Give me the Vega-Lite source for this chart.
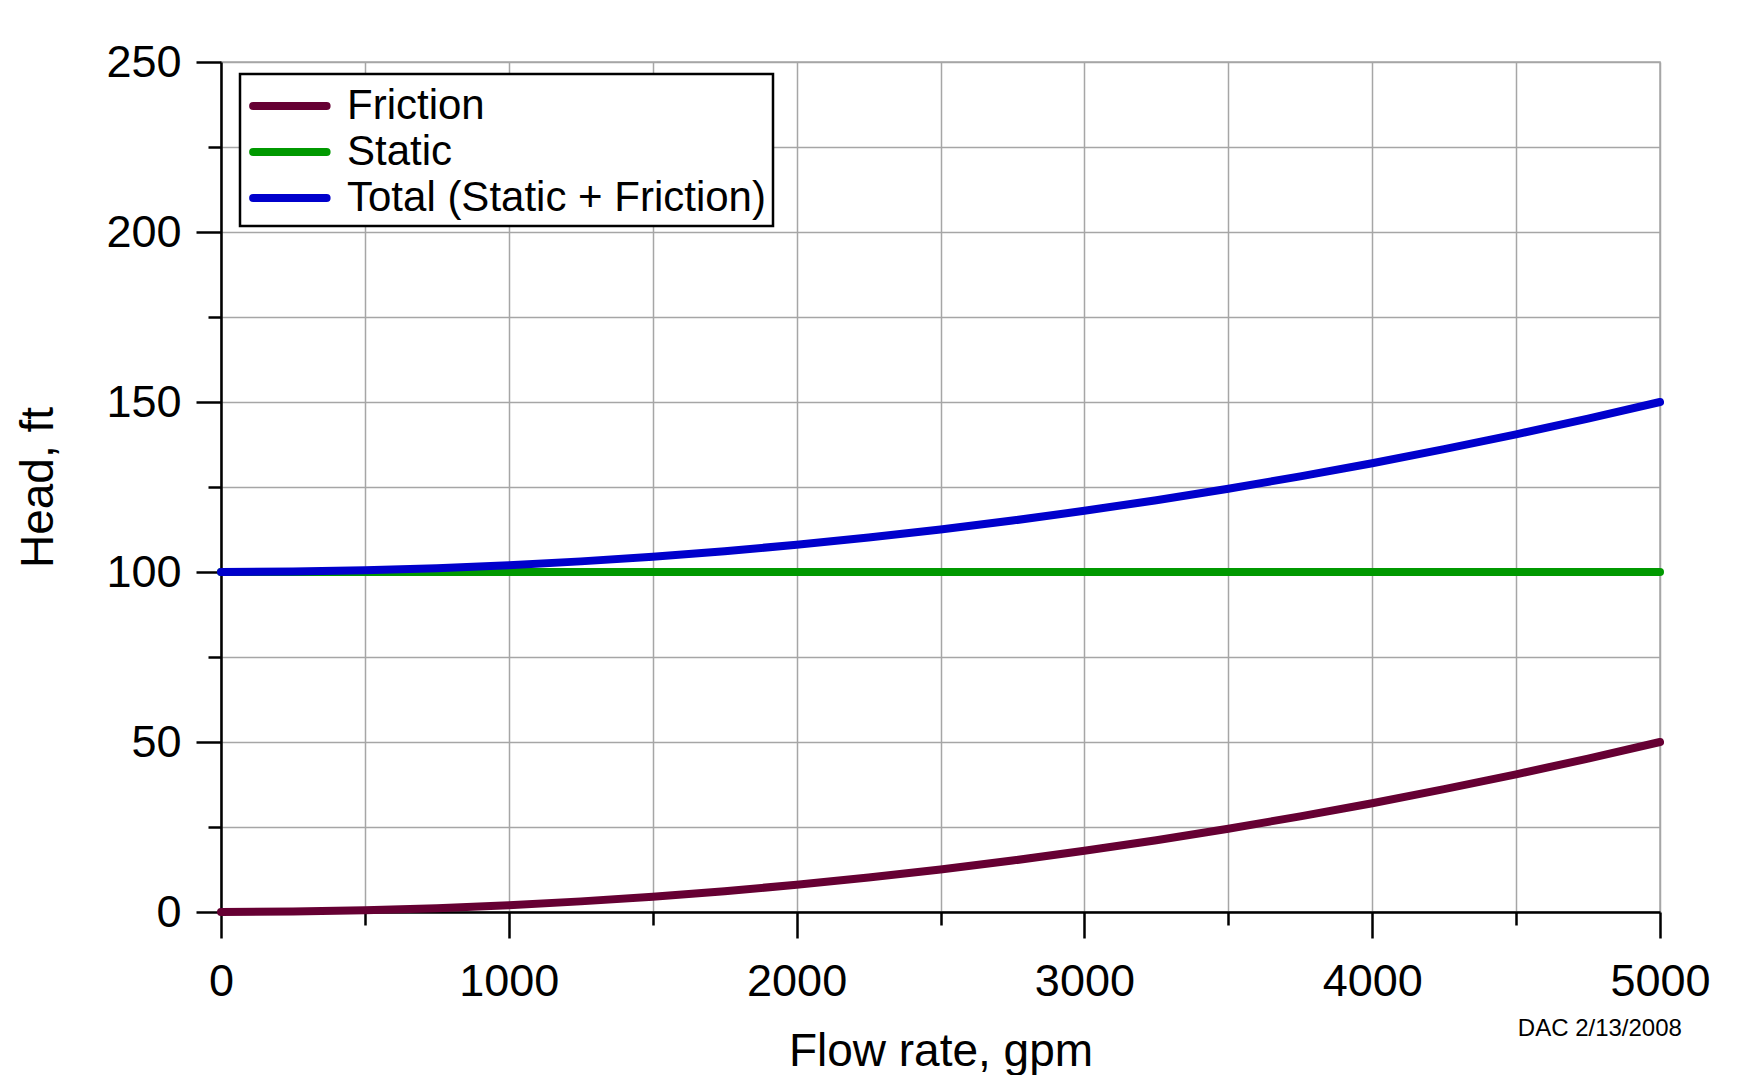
{
  "$schema": "https://vega.github.io/schema/vega-lite/v6.json",
  "width": 1439,
  "height": 850,
  "autosize": {"type": "none"},
  "padding": {"left": 221, "top": 62, "right": 100, "bottom": 163},
  "background": "white",
  "config": {
    "font": "Liberation Sans",
    "view": {"stroke": "#a6a6a6", "strokeWidth": 1.5},
    "axis": {
      "grid": true,
      "gridColor": "#a6a6a6",
      "gridWidth": 1.5,
      "domainColor": "black",
      "domainWidth": 2.5,
      "tickColor": "black",
      "tickWidth": 2.5,
      "labelFontSize": 45,
      "labelColor": "black",
      "labelFlush": false,
      "labelOverlap": false,
      "titleFontSize": 46,
      "titleFontWeight": "normal",
      "titleColor": "black"
    }
  },
  "datasets": {
    "curves": [
      {"Q": 0, "head": 0, "series": "Friction"},
      {"Q": 250, "head": 0.125, "series": "Friction"},
      {"Q": 500, "head": 0.5, "series": "Friction"},
      {"Q": 750, "head": 1.125, "series": "Friction"},
      {"Q": 1000, "head": 2, "series": "Friction"},
      {"Q": 1250, "head": 3.125, "series": "Friction"},
      {"Q": 1500, "head": 4.5, "series": "Friction"},
      {"Q": 1750, "head": 6.125, "series": "Friction"},
      {"Q": 2000, "head": 8, "series": "Friction"},
      {"Q": 2250, "head": 10.125, "series": "Friction"},
      {"Q": 2500, "head": 12.5, "series": "Friction"},
      {"Q": 2750, "head": 15.125, "series": "Friction"},
      {"Q": 3000, "head": 18, "series": "Friction"},
      {"Q": 3250, "head": 21.125, "series": "Friction"},
      {"Q": 3500, "head": 24.5, "series": "Friction"},
      {"Q": 3750, "head": 28.125, "series": "Friction"},
      {"Q": 4000, "head": 32, "series": "Friction"},
      {"Q": 4250, "head": 36.125, "series": "Friction"},
      {"Q": 4500, "head": 40.5, "series": "Friction"},
      {"Q": 4750, "head": 45.125, "series": "Friction"},
      {"Q": 5000, "head": 50, "series": "Friction"},
      {"Q": 0, "head": 100, "series": "Static"},
      {"Q": 1000, "head": 100, "series": "Static"},
      {"Q": 2000, "head": 100, "series": "Static"},
      {"Q": 3000, "head": 100, "series": "Static"},
      {"Q": 4000, "head": 100, "series": "Static"},
      {"Q": 5000, "head": 100, "series": "Static"},
      {"Q": 0, "head": 100, "series": "Total (Static + Friction)"},
      {"Q": 250, "head": 100.125, "series": "Total (Static + Friction)"},
      {"Q": 500, "head": 100.5, "series": "Total (Static + Friction)"},
      {"Q": 750, "head": 101.125, "series": "Total (Static + Friction)"},
      {"Q": 1000, "head": 102, "series": "Total (Static + Friction)"},
      {"Q": 1250, "head": 103.125, "series": "Total (Static + Friction)"},
      {"Q": 1500, "head": 104.5, "series": "Total (Static + Friction)"},
      {"Q": 1750, "head": 106.125, "series": "Total (Static + Friction)"},
      {"Q": 2000, "head": 108, "series": "Total (Static + Friction)"},
      {"Q": 2250, "head": 110.125, "series": "Total (Static + Friction)"},
      {"Q": 2500, "head": 112.5, "series": "Total (Static + Friction)"},
      {"Q": 2750, "head": 115.125, "series": "Total (Static + Friction)"},
      {"Q": 3000, "head": 118, "series": "Total (Static + Friction)"},
      {"Q": 3250, "head": 121.125, "series": "Total (Static + Friction)"},
      {"Q": 3500, "head": 124.5, "series": "Total (Static + Friction)"},
      {"Q": 3750, "head": 128.125, "series": "Total (Static + Friction)"},
      {"Q": 4000, "head": 132, "series": "Total (Static + Friction)"},
      {"Q": 4250, "head": 136.125, "series": "Total (Static + Friction)"},
      {"Q": 4500, "head": 140.5, "series": "Total (Static + Friction)"},
      {"Q": 4750, "head": 145.125, "series": "Total (Static + Friction)"},
      {"Q": 5000, "head": 150, "series": "Total (Static + Friction)"}
    ],
    "note": [
      {"Q": 4791, "head": -36.5, "label": "DAC 2/13/2008"}
    ]
  },
  "encoding": {
    "x": {
      "field": "Q",
      "type": "quantitative",
      "scale": {"domain": [0, 5000], "nice": false, "zero": false},
      "axis": {
        "title": "Flow rate, gpm",
        "values": [0, 500, 1000, 1500, 2000, 2500, 3000, 3500, 4000, 4500, 5000],
        "format": "d",
        "labelExpr": "datum.value % 1000 === 0 ? datum.label : ''",
        "tickSize": {"condition": {"test": "datum.value % 1000 === 0", "value": 26}, "value": 13},
        "labelPadding": 21,
        "titlePadding": 25
      }
    },
    "y": {
      "field": "head",
      "type": "quantitative",
      "scale": {"domain": [0, 250], "nice": false, "zero": false},
      "axis": {
        "title": "Head, ft",
        "values": [0, 25, 50, 75, 100, 125, 150, 175, 200, 225, 250],
        "format": "d",
        "labelExpr": "datum.value % 50 === 0 ? datum.label : ''",
        "tickSize": {"condition": {"test": "datum.value % 50 === 0", "value": 25}, "value": 13},
        "labelPadding": 15,
        "titlePadding": 43
      }
    }
  },
  "layer": [
    {
      "data": {"name": "curves"},
      "mark": {"type": "line", "strokeWidth": 8, "strokeCap": "round", "strokeJoin": "round", "clip": false},
      "encoding": {
        "color": {
          "field": "series",
          "type": "nominal",
          "sort": ["Friction", "Static", "Total (Static + Friction)"],
          "scale": {
            "domain": ["Friction", "Static", "Total (Static + Friction)"],
            "range": ["#660033", "#009900", "#0000cc"]
          },
          "legend": {
            "title": null,
            "orient": "none",
            "legendX": 19,
            "legendY": 12,
            "padding": 7,
            "strokeColor": "black",
            "fillColor": "white",
            "symbolType": "M-0.9,0H2.6",
            "symbolSize": 1764,
            "symbolStrokeWidth": 8,
            "labelFontSize": 42,
            "labelColor": "black",
            "labelOffset": 50,
            "labelLimit": 0,
            "rowPadding": 0,
            "encode": {
              "legend": {"update": {"strokeWidth": {"value": 2.5}}},
              "symbols": {"update": {"strokeCap": {"value": "round"}}}
            }
          }
        }
      }
    },
    {
      "data": {"name": "note"},
      "mark": {"type": "text", "fontSize": 24, "align": "center", "baseline": "alphabetic", "color": "black", "clip": false},
      "encoding": {
        "text": {"field": "label"}
      }
    }
  ]
}
